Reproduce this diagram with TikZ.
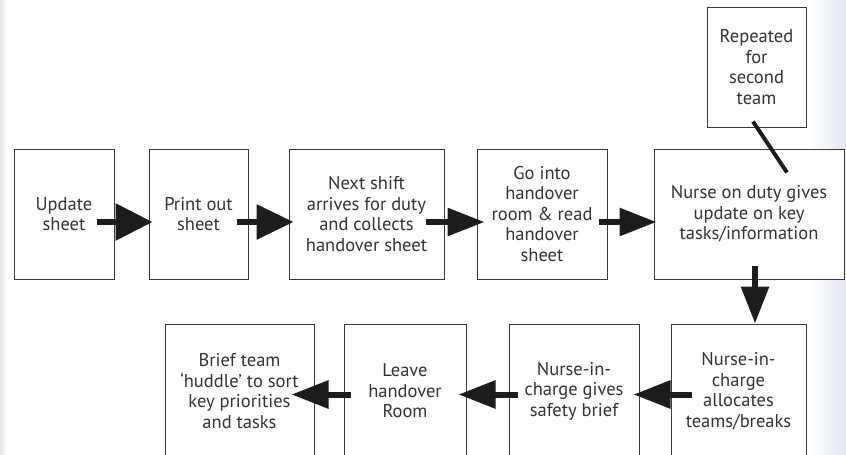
\documentclass[tikz,border=0pt]{standalone}
\usepackage{fontspec}
\setmainfont{PT Sans}
\usetikzlibrary{arrows.meta,calc}
\definecolor{boxc}{HTML}{383838}
\definecolor{txtc}{HTML}{333333}
\definecolor{arrc}{HTML}{1C1C1C}
\definecolor{edgec}{HTML}{E2E7ED}
\begin{document}
\begin{tikzpicture}[x=1pt,y=-1pt,
  box/.style={draw=boxc, line width=1pt, fill=white, inner sep=0pt, align=center,
    font=\fontsize{18.5}{20.5}\selectfont, text=txtc},
  flow/.style={line width=6pt, draw=arrc, -{Triangle[length=37pt,width=#1]}},
  flow/.default=27pt,
  tie/.style={line width=4pt, draw=arrc}]
\useasboundingbox (0,0) rectangle (846,455);
\fill[white] (0,0) rectangle (846,455);
\shade[left color=white, right color=edgec] (810,0) rectangle (846,455);
\shade[left color=black!10, right color=white] (0,0) rectangle (7,455);
% top row
\node[box, minimum width=100pt, minimum height=130pt] (upd) at (64,214) {Update\\sheet};
\node[box, minimum width=99pt, minimum height=130pt] (prt) at (198.5,214) {Print out\\sheet};
\node[box, minimum width=155pt, minimum height=130pt] (nxt) at (366.5,214) {Next shift\\arrives for duty\\and collects\\handover sheet};
\node[box, minimum width=130pt, minimum height=130pt] (goin) at (542,214) {Go into\\handover\\room \& read\\handover\\sheet};
\node[box, minimum width=190pt, minimum height=130pt] (nod) at (749,214) {Nurse on duty gives\\update on key\\tasks/information};
\node[box, minimum width=99pt, minimum height=120pt] (rep) at (756.5,67) {Repeated\\for\\second\\team};
% bottom row
\node[box, minimum width=135pt, minimum height=134pt] (alloc) at (738.5,391) {Nurse-in-\\charge\\allocates\\teams/breaks};
\node[box, minimum width=130pt, minimum height=134pt] (saf) at (574,391) {Nurse-in-\\charge gives\\safety brief};
\node[box, minimum width=122pt, minimum height=134pt] (lea) at (405,391) {Leave\\handover\\Room};
\node[box, minimum width=149pt, minimum height=134pt] (bri) at (239.5,391) {Brief team\\‘huddle’ to sort\\key priorities\\and tasks};
% connectors top row
\draw[flow=36pt] ($(upd.east)+(-18,8)$) -- ($(prt.west)+(4,8)$);
\draw[flow=34pt] ($(prt.east)+(-12,8)$) -- ($(nxt.west)+(5,8)$);
\draw[flow] ($(nxt.east)+(-19,8)$) -- ($(goin.west)+(8,8)$);
\draw[flow] ($(goin.east)+(-9,8)$) -- ($(nod.west)+(3,8)$);
% down
\draw[flow] ($(nod.south)+(6,-14)$) -- ($(alloc.north)+(16.5,0)$);
% bottom row
\draw[flow] ($(alloc.west)+(21,3.5)$) -- ($(saf.east)+(-6,3.5)$);
\draw[flow] ($(saf.west)+(9,3.5)$) -- ($(lea.east)+(-8,3.5)$);
\draw[flow] ($(lea.west)+(7,3.5)$) -- ($(bri.east)+(-23,3.5)$);
% repeated tie
\draw[tie] ($(rep.south)+(-3.5,-6)$) -- ($(nod.north)+(38,24)$);
\end{tikzpicture}
\end{document}
